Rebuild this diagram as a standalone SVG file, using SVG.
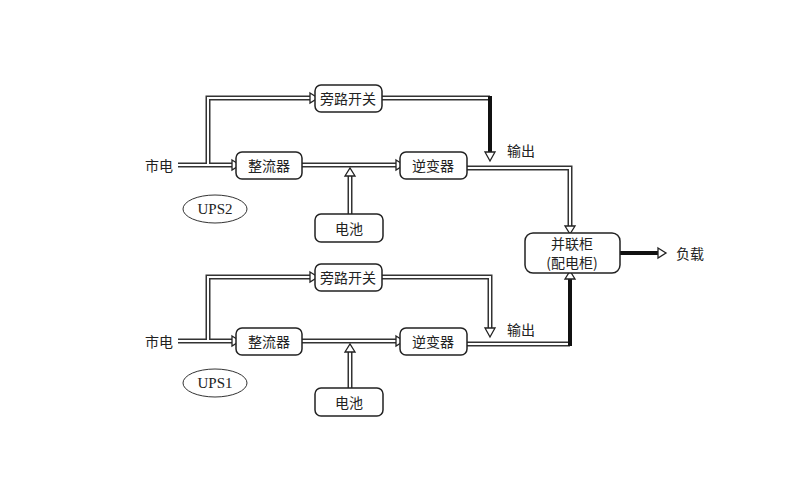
<svg xmlns="http://www.w3.org/2000/svg" width="800" height="500" viewBox="0 0 800 500">
<style>
.box{fill:#fff;stroke:#222;stroke-width:1.5}
.t{font-family:"Noto Sans CJK SC","Liberation Sans",sans-serif;font-size:14px;fill:#222;text-anchor:middle;dominant-baseline:central}
.o{fill:none;stroke:#333;stroke-width:5}
.i{fill:none;stroke:#fff;stroke-width:2}
.k{fill:none;stroke:#111;stroke-width:4}
.ah{fill:#fff;stroke:#222;stroke-width:1.3}
</style>
<rect width="800" height="500" fill="#fff"/>
<g id="connectors">
<path class="o" d="M178,165H232M208,165V98H310M302,165H396M467,168H570V228M178,341H232M208,341V277H310M302,341H396M382,98H490M382,277H490V328M467,344H570M350,214V176M350,388V352"/>
<path class="i" d="M178,165H232M208,165V98H310M302,165H396M467,168H570V228M178,341H232M208,341V277H310M302,341H396M382,98H490M382,277H490V328M467,344H570M350,214V176M350,388V352"/>
<path class="k" d="M490,96V152M570,346V278M620,253H658"/>
<polygon class="ah" points="232,160 240,165 232,170"/>
<polygon class="ah" points="310,93 318,98 310,103"/>
<polygon class="ah" points="396,160 404,165 396,170"/>
<polygon class="ah" points="485,152 495,152 490,161"/>
<polygon class="ah" points="565,226 575,226 570,234"/>
<polygon class="ah" points="345,176 355,176 350,168"/>
<polygon class="ah" points="232,336 240,341 232,346"/>
<polygon class="ah" points="310,272 318,277 310,282"/>
<polygon class="ah" points="396,336 404,341 396,346"/>
<polygon class="ah" points="485,328 495,328 490,337"/>
<polygon class="ah" points="565,279 575,279 570,271"/>
<polygon class="ah" points="345,352 355,352 350,344"/>
<polygon class="ah" points="658,248 666,253 658,258"/>
</g>
<g id="ups2">
<text class="t" x="159" y="165">市电</text>
<ellipse cx="215" cy="209" rx="32" ry="14" fill="#fff" stroke="#333"/>
<text class="t" x="215" y="209" style="font-family:'Liberation Serif',serif;font-size:15px">UPS2</text>
<g id="bypass2"><rect class="box" x="315" y="85" width="67" height="27" rx="6"/><text class="t" x="348" y="98">旁路开关</text></g>
<g id="rect2"><rect class="box" x="236" y="152" width="66" height="27" rx="6"/><text class="t" x="269" y="165">整流器</text></g>
<g id="inv2"><rect class="box" x="400" y="152" width="67" height="27" rx="6"/><text class="t" x="433" y="165">逆变器</text></g>
<g id="bat2"><rect class="box" x="315" y="214" width="68" height="28" rx="6"/><text class="t" x="349" y="228">电池</text></g>
<text class="t" x="521" y="150">输出</text>
</g>
<g id="ups1">
<text class="t" x="159" y="341">市电</text>
<ellipse cx="215" cy="383" rx="32" ry="14" fill="#fff" stroke="#333"/>
<text class="t" x="215" y="383" style="font-family:'Liberation Serif',serif;font-size:15px">UPS1</text>
<g id="bypass1"><rect class="box" x="315" y="264" width="67" height="27" rx="6"/><text class="t" x="348" y="277">旁路开关</text></g>
<g id="rect1"><rect class="box" x="236" y="328" width="66" height="27" rx="6"/><text class="t" x="269" y="341">整流器</text></g>
<g id="inv1"><rect class="box" x="400" y="328" width="67" height="27" rx="6"/><text class="t" x="433" y="341">逆变器</text></g>
<g id="bat1"><rect class="box" x="315" y="388" width="68" height="28" rx="6"/><text class="t" x="349" y="402">电池</text></g>
<text class="t" x="521" y="329">输出</text>
</g>
<g id="parallel"><rect class="box" x="525" y="233" width="95" height="40" rx="8"/><text class="t" x="572" y="243">并联柜</text><text class="t" x="572" y="262">(配电柜)</text></g>
<text class="t" x="690" y="253">负载</text>
</svg>
